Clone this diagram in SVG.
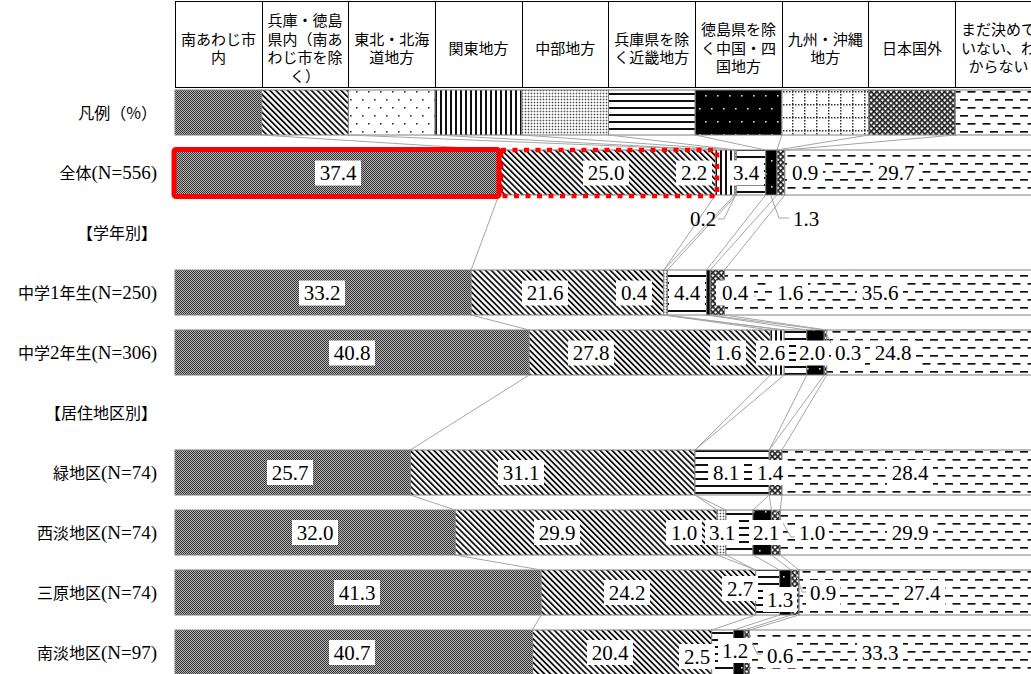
<svg xmlns="http://www.w3.org/2000/svg" width="1031" height="674" viewBox="0 0 1031 674">
<defs>
<pattern id="p1" width="2" height="2" patternUnits="userSpaceOnUse"><rect width="2" height="2" fill="#b4b4b4"/><rect width="1" height="1" fill="#333"/><rect x="1" y="1" width="1" height="1" fill="#333"/></pattern>
<pattern id="p2" width="4.2" height="4.2" patternUnits="userSpaceOnUse" patternTransform="rotate(-45)"><rect width="4.2" height="4.2" fill="#fff"/><rect width="1.8" height="4.2" fill="#111"/></pattern>
<pattern id="p3" width="12" height="16" patternUnits="userSpaceOnUse"><rect width="12" height="16" fill="#fff"/><rect x="2" y="3" width="1.6" height="1.6" fill="#333"/><rect x="8" y="11" width="1.6" height="1.6" fill="#333"/></pattern>
<pattern id="p4" width="5" height="5" patternUnits="userSpaceOnUse"><rect width="5" height="5" fill="#fff"/><rect width="2" height="5" fill="#111"/></pattern>
<pattern id="p5" width="3" height="3" patternUnits="userSpaceOnUse"><rect width="3" height="3" fill="#fff"/><rect width="3" height="1" fill="#c8c8c8"/><rect width="1" height="3" fill="#c8c8c8"/><rect width="1" height="1" fill="#555"/></pattern>
<pattern id="p6" width="7" height="7" patternUnits="userSpaceOnUse"><rect width="7" height="7" fill="#fff"/><rect y="2" width="7" height="2" fill="#111"/></pattern>
<pattern id="p7" width="12" height="26" patternUnits="userSpaceOnUse"><rect width="12" height="26" fill="#000"/><rect x="3" y="4" width="1.6" height="1.6" fill="#ddd"/><rect x="9" y="17" width="1.6" height="1.6" fill="#ddd"/></pattern>
<pattern id="p8" width="12" height="13" patternUnits="userSpaceOnUse"><rect width="12" height="13" fill="#fff"/><line x1="0.75" y1="0" x2="0.75" y2="13" stroke="#333" stroke-width="1.5" stroke-dasharray="1.5 1.5"/><line x1="0" y1="0.75" x2="12" y2="0.75" stroke="#333" stroke-width="1.5" stroke-dasharray="1.5 1.5"/></pattern>
<pattern id="p9" width="4" height="4" patternUnits="userSpaceOnUse" patternTransform="rotate(45)"><rect width="4" height="4" fill="#fff"/><rect width="4" height="1.7" fill="#222"/><rect width="1.7" height="4" fill="#222"/></pattern>
<pattern id="p10" width="15" height="16" patternUnits="userSpaceOnUse"><rect width="15" height="16" fill="#fff"/><rect x="0" y="3" width="8" height="1.7" fill="#111"/><rect x="7.5" y="11" width="8" height="1.7" fill="#111"/><rect x="-7.5" y="11" width="8" height="1.7" fill="#111"/></pattern>
</defs>
<style>
.seg{stroke:#808080;stroke-width:1}
.f1{fill:url(#p1)}.f2{fill:url(#p2)}.f3{fill:url(#p3)}.f4{fill:url(#p4)}.f5{fill:url(#p5)}
.f6{fill:url(#p6)}.f7{fill:url(#p7)}.f8{fill:url(#p8)}.f9{fill:url(#p9)}.f10{fill:url(#p10)}
.sl{stroke:#a6a6a6;stroke-width:1;fill:none}
.lb{fill:#fff}
.v{font-family:"Liberation Serif",serif;font-size:21px;text-anchor:middle;fill:#000}
.h{font-family:"Noto Sans CJK JP",sans-serif;font-size:15px;text-anchor:middle;fill:#000}
.r{font-family:"Noto Sans CJK JP",sans-serif;font-size:16px;text-anchor:end;fill:#000}
.a{font-family:"Liberation Serif",serif;font-size:19px}
.grid{stroke:#000;stroke-width:1;fill:none}
</style>
<rect width="1031" height="674" fill="#fff"/>

<g id="header">
<rect class="grid" x="175.5" y="1.5" width="866" height="86"/>
<path class="grid" d="M262.5 1.5V87.5M348.5 1.5V87.5M435.5 1.5V87.5M522.5 1.5V87.5M608.5 1.5V87.5M695.5 1.5V87.5M782.5 1.5V87.5M868.5 1.5V87.5M955.5 1.5V87.5"/>
<text class="h" x="218.4" y="44.5">南あわじ市</text><text class="h" x="218.4" y="63">内</text>
<text class="h" x="305" y="26">兵庫・徳島</text><text class="h" x="305" y="44.5">県内（南あ</text><text class="h" x="305" y="63">わじ市を除</text><text class="h" x="305" y="81.5">く）</text>
<text class="h" x="391.8" y="44.5">東北・北海</text><text class="h" x="391.8" y="63">道地方</text>
<text class="h" x="478.5" y="53.7">関東地方</text>
<text class="h" x="565.2" y="53.7">中部地方</text>
<text class="h" x="651.8" y="44.5">兵庫県を除</text><text class="h" x="651.8" y="63">く近畿地方</text>
<text class="h" x="738.5" y="35.2">徳島県を除</text><text class="h" x="738.5" y="53.7">く中国・四</text><text class="h" x="738.5" y="72.2">国地方</text>
<text class="h" x="825.2" y="44.5">九州・沖縄</text><text class="h" x="825.2" y="63">地方</text>
<text class="h" x="911.9" y="53.7">日本国外</text>
<text class="h" x="998.6" y="35.2">まだ決めて</text><text class="h" x="998.6" y="53.7">いない、わ</text><text class="h" x="998.6" y="72.2">からない</text>
</g>

<g id="row-labels">
<text class="r" x="157" y="118.5">凡例（%）</text>
<text class="r" x="157" y="178.5">全体<tspan class="a">(N=556)</tspan></text>
<text class="r" x="157" y="238.5">【学年別】</text>
<text class="r" x="157" y="298.5">中学<tspan class="a">1</tspan>年生<tspan class="a">(N=250)</tspan></text>
<text class="r" x="157" y="358.5">中学<tspan class="a">2</tspan>年生<tspan class="a">(N=306)</tspan></text>
<text class="r" x="157" y="418.5">【居住地区別】</text>
<text class="r" x="157" y="478.5">緑地区<tspan class="a">(N=74)</tspan></text>
<text class="r" x="157" y="538.5">西淡地区<tspan class="a">(N=74)</tspan></text>
<text class="r" x="157" y="598.5">三原地区<tspan class="a">(N=74)</tspan></text>
<text class="r" x="157" y="658.5">南淡地区<tspan class="a">(N=97)</tspan></text>
</g>

<g id="bar-legend" class="seg">
<rect class="f1" x="175" y="90" width="86.7" height="45"/>
<rect class="f2" x="261.7" y="90" width="86.7" height="45"/>
<rect class="f3" x="348.4" y="90" width="86.7" height="45"/>
<rect class="f4" x="435.1" y="90" width="86.7" height="45"/>
<rect class="f5" x="521.8" y="90" width="86.7" height="45"/>
<rect class="f6" x="608.5" y="90" width="86.7" height="45"/>
<rect class="f7" x="695.2" y="90" width="86.7" height="45"/>
<rect class="f8" x="781.9" y="90" width="86.7" height="45"/>
<rect class="f9" x="868.6" y="90" width="86.7" height="45"/>
<rect class="f10" x="955.3" y="90" width="86.7" height="45"/>
</g>

<g id="bar-all" class="seg">
<rect class="f1" x="175" y="150" width="323.9" height="45"/>
<rect class="f2" x="498.9" y="150" width="216.6" height="45"/>
<rect class="f4" x="715.5" y="150" width="19" height="45"/>
<rect class="f5" x="734.5" y="150" width="1.8" height="45"/>
<rect class="f6" x="736.3" y="150" width="29.4" height="45"/>
<rect class="f7" x="765.7" y="150" width="11.3" height="45"/>
<rect class="f9" x="777" y="150" width="7.8" height="45"/>
<rect class="f10" x="784.8" y="150" width="257.2" height="45"/>
</g>

<g id="bar-g1" class="seg">
<rect class="f1" x="175" y="270" width="296.1" height="45"/>
<rect class="f2" x="471.1" y="270" width="192.7" height="45"/>
<rect class="f5" x="663.8" y="270" width="3.6" height="45"/>
<rect class="f6" x="667.4" y="270" width="39.2" height="45"/>
<rect class="f7" x="706.6" y="270" width="3.6" height="45"/>
<rect class="f9" x="710.2" y="270" width="14.3" height="45"/>
<rect class="f10" x="724.5" y="270" width="317.5" height="45"/>
</g>

<g id="bar-g2" class="seg">
<rect class="f1" x="175" y="330" width="354.1" height="45"/>
<rect class="f2" x="529.1" y="330" width="241.3" height="45"/>
<rect class="f4" x="770.4" y="330" width="13.8" height="45"/>
<rect class="f6" x="784.2" y="330" width="22.6" height="45"/>
<rect class="f7" x="806.8" y="330" width="17.4" height="45"/>
<rect class="f9" x="824.2" y="330" width="2.6" height="45"/>
<rect class="f10" x="826.8" y="330" width="215.2" height="45"/>
</g>

<g id="bar-midori" class="seg">
<rect class="f1" x="175" y="450" width="235.3" height="45"/>
<rect class="f2" x="410.3" y="450" width="284.7" height="45"/>
<rect class="f6" x="695" y="450" width="74.2" height="45"/>
<rect class="f9" x="769.2" y="450" width="12.8" height="45"/>
<rect class="f10" x="782" y="450" width="260" height="45"/>
</g>

<g id="bar-seidan" class="seg">
<rect class="f1" x="175" y="510" width="280.2" height="45"/>
<rect class="f2" x="455.2" y="510" width="261.9" height="45"/>
<rect class="f5" x="717.1" y="510" width="8.8" height="45"/>
<rect class="f6" x="725.9" y="510" width="27.1" height="45"/>
<rect class="f7" x="753" y="510" width="18.4" height="45"/>
<rect class="f9" x="771.4" y="510" width="8.8" height="45"/>
<rect class="f10" x="780.2" y="510" width="261.8" height="45"/>
</g>

<g id="bar-mihara" class="seg">
<rect class="f1" x="175" y="570" width="366.1" height="45"/>
<rect class="f2" x="541.1" y="570" width="214.6" height="45"/>
<rect class="f6" x="755.7" y="570" width="23.9" height="45"/>
<rect class="f7" x="779.6" y="570" width="11.5" height="45"/>
<rect class="f9" x="791.1" y="570" width="8" height="45"/>
<rect class="f10" x="799.1" y="570" width="242.9" height="45"/>
</g>

<g id="bar-nandan" class="seg">
<rect class="f1" x="175" y="630" width="357.5" height="45"/>
<rect class="f2" x="532.5" y="630" width="179.2" height="45"/>
<rect class="f6" x="711.7" y="630" width="22" height="45"/>
<rect class="f7" x="733.7" y="630" width="10.5" height="45"/>
<rect class="f9" x="744.2" y="630" width="5.3" height="45"/>
<rect class="f10" x="749.5" y="630" width="292.5" height="45"/>
</g>

<g id="connectors" class="sl">
<path d="M261.7 135L498.9 150M348.4 135L715.5 150M435.1 135L715.5 150M521.8 135L734.5 150M608.5 135L736.3 150M695.2 135L765.7 150M781.9 135L777 150M868.6 135L777 150M955.3 135L784.8 150"/>
<path d="M498.9 195L471.1 270M715.5 195L663.8 270M734.5 195L663.8 270M736.3 195L667.4 270M765.7 195L706.6 270M777 195L710.2 270M784.8 195L724.5 270"/>
<path d="M471.1 315L529.1 330M663.8 315L770.4 330M663.8 315L784.2 330M667.4 315L784.2 330M706.6 315L806.8 330M710.2 315L824.2 330M724.5 315L826.8 330"/>
<path d="M529.1 375L410.3 450M770.4 375L695 450M784.2 375L695 450M806.8 375L769.2 450M824.2 375L769.2 450M826.8 375L782 450"/>
<path d="M410.3 495L455.2 510M695 495L717.1 510M695 495L725.9 510M769.2 495L753 510M769.2 495L771.4 510M782 495L780.2 510"/>
<path d="M455.2 555L541.1 570M717.1 555L755.7 570M725.9 555L755.7 570M753 555L779.6 570M771.4 555L791.1 570M780.2 555L799.1 570"/>
<path d="M541.1 615L532.5 630M755.7 615L711.7 630M779.6 615L733.7 630M791.1 615L744.2 630M799.1 615L749.5 630"/>
<path d="M718 219H724L735 196M789 218H779L771 196M756 296H748L719 277M836 353L826 333M797 537H791L776 511M807 592H802L795 571M762 654H757L747 631"/>
</g>

<g id="highlight" fill="none" stroke="#ff0000">
<rect x="501" y="150" width="216" height="46" stroke-width="4.5" stroke-dasharray="5 6.5"/>
<rect x="174" y="149.5" width="325" height="47" stroke-width="5" rx="2"/>
</g>

<g id="labels-all">
<rect class="lb" x="315" y="160.5" width="46" height="25"/><text class="v" x="338" y="180">37.4</text>
<rect class="lb" x="583" y="160.5" width="46" height="25"/><text class="v" x="606" y="180">25.0</text>
<rect class="lb" x="676" y="160.5" width="36" height="25"/><text class="v" x="694" y="180">2.2</text>
<rect class="lb" x="728" y="160.5" width="36" height="25"/><text class="v" x="746" y="180">3.4</text>
<rect class="lb" x="787" y="160.5" width="36" height="25"/><text class="v" x="805" y="180">0.9</text>
<rect class="lb" x="873" y="160.5" width="46" height="25"/><text class="v" x="896" y="180">29.7</text>
<text class="v" x="703" y="226">0.2</text>
<text class="v" x="806" y="226">1.3</text>
</g>

<g id="labels-g1">
<rect class="lb" x="299" y="280.5" width="46" height="25"/><text class="v" x="322" y="300">33.2</text>
<rect class="lb" x="522" y="280.5" width="46" height="25"/><text class="v" x="545" y="300">21.6</text>
<rect class="lb" x="616" y="280.5" width="36" height="25"/><text class="v" x="634" y="300">0.4</text>
<rect class="lb" x="669" y="280.5" width="36" height="25"/><text class="v" x="687" y="300">4.4</text>
<rect class="lb" x="716" y="280.5" width="38" height="25"/><text class="v" x="735" y="300">0.4</text>
<rect class="lb" x="772" y="280.5" width="36" height="25"/><text class="v" x="790" y="300">1.6</text>
<rect class="lb" x="857" y="280.5" width="46" height="25"/><text class="v" x="880" y="300">35.6</text>
</g>

<g id="labels-g2">
<rect class="lb" x="329" y="340.5" width="46" height="25"/><text class="v" x="352" y="360">40.8</text>
<rect class="lb" x="568" y="340.5" width="46" height="25"/><text class="v" x="591" y="360">27.8</text>
<rect class="lb" x="710" y="340.5" width="36" height="25"/><text class="v" x="728" y="360">1.6</text>
<rect class="lb" x="756" y="340.5" width="33" height="25"/><text class="v" x="772" y="360">2.6</text>
<rect class="lb" x="796" y="340.5" width="33" height="25"/><text class="v" x="812" y="360">2.0</text>
<rect class="lb" x="831" y="340.5" width="34" height="25"/><text class="v" x="848" y="360">0.3</text>
<rect class="lb" x="870" y="340.5" width="46" height="25"/><text class="v" x="893" y="360">24.8</text>
</g>

<g id="labels-midori">
<rect class="lb" x="267" y="460" width="46" height="25"/><text class="v" x="290" y="479.5">25.7</text>
<rect class="lb" x="498" y="460" width="46" height="25"/><text class="v" x="521" y="479.5">31.1</text>
<rect class="lb" x="708" y="460" width="36" height="25"/><text class="v" x="726" y="479.5">8.1</text>
<rect class="lb" x="752" y="460" width="36" height="25"/><text class="v" x="770" y="479.5">1.4</text>
<rect class="lb" x="887" y="460" width="46" height="25"/><text class="v" x="910" y="479.5">28.4</text>
</g>

<g id="labels-seidan">
<rect class="lb" x="292" y="520" width="46" height="25"/><text class="v" x="315" y="539.5">32.0</text>
<rect class="lb" x="534" y="520" width="46" height="25"/><text class="v" x="557" y="539.5">29.9</text>
<rect class="lb" x="666" y="520" width="36" height="25"/><text class="v" x="684" y="539.5">1.0</text>
<rect class="lb" x="705" y="520" width="34" height="25"/><text class="v" x="722" y="539.5">3.1</text>
<rect class="lb" x="749" y="520" width="34" height="25"/><text class="v" x="766" y="539.5">2.1</text>
<rect class="lb" x="795" y="520" width="34" height="25"/><text class="v" x="812" y="539.5">1.0</text>
<rect class="lb" x="887" y="520" width="46" height="25"/><text class="v" x="910" y="539.5">29.9</text>
</g>

<g id="labels-mihara">
<rect class="lb" x="334" y="580" width="46" height="25"/><text class="v" x="357" y="599.5">41.3</text>
<rect class="lb" x="604" y="580" width="46" height="25"/><text class="v" x="627" y="599.5">24.2</text>
<rect class="lb" x="722" y="576" width="36" height="25"/><text class="v" x="740" y="595.5">2.7</text>
<rect class="lb" x="763" y="587" width="34" height="25"/><text class="v" x="780" y="606.5">1.3</text>
<rect class="lb" x="806" y="580" width="34" height="25"/><text class="v" x="823" y="599.5">0.9</text>
<rect class="lb" x="899" y="580" width="46" height="25"/><text class="v" x="922" y="599.5">27.4</text>
</g>

<g id="labels-nandan">
<rect class="lb" x="329" y="640" width="46" height="25"/><text class="v" x="352" y="659.5">40.7</text>
<rect class="lb" x="587" y="640" width="46" height="25"/><text class="v" x="610" y="659.5">20.4</text>
<rect class="lb" x="679" y="644" width="36" height="25"/><text class="v" x="697" y="663.5">2.5</text>
<rect class="lb" x="718" y="638" width="34" height="25"/><text class="v" x="735" y="657.5">1.2</text>
<rect class="lb" x="763" y="643" width="34" height="25"/><text class="v" x="780" y="662.5">0.6</text>
<rect class="lb" x="857" y="640" width="46" height="25"/><text class="v" x="880" y="659.5">33.3</text>
</g>
</svg>
